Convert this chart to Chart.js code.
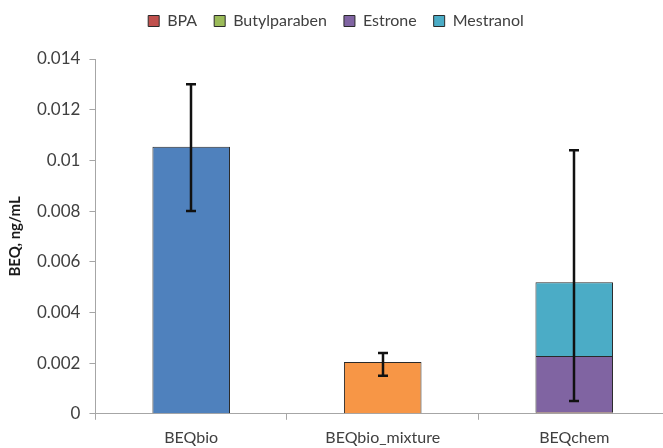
<!DOCTYPE html>
<html>
<head>
<meta charset="utf-8">
<script src="https://cdn.jsdelivr.net/npm/chart.js@4/dist/chart.umd.min.js"></script>
<style>
  html, body { margin: 0; padding: 0; background: #fff; overflow: hidden; }
  #wrap { position: relative; width: 663px; height: 448px; overflow: hidden; }
  #c { position: absolute; left: 0; top: -4px; }
</style>
</head>
<body>
<div id="wrap"><canvas id="c" width="672" height="461"></canvas></div>
<script>
// Categories along the x axis
const categories = ['BEQbio', 'BEQbio_mixture', 'BEQchem'];

// Measured bioassay equivalents (ng/mL)
const beqBio = [0.01054, null, null];
const beqBioMixture = [null, 0.00204, null];

// Chemical contributions stacked in BEQchem (ng/mL)
const bpa = [null, null, 0.00006];
const butylparaben = [null, null, 0.00001];
const estrone = [null, null, 0.00221];
const mestranol = [null, null, 0.00291];

// Error bar limits per category (ng/mL)
const errLow = [0.0080, 0.0015, 0.00051];
const errHigh = [0.0130, 0.0024, 0.0104];

// Y axis ticks
const yTicks = [0, 0.002, 0.004, 0.006, 0.008, 0.01, 0.012, 0.014];

const legendNames = ['BPA', 'Butylparaben', 'Estrone', 'Mestranol'];

const FONT = "Lato, 'Open Sans', sans-serif";
const TEXT = '#404040';

function ds(label, data, color) {
  return {
    label, data,
    backgroundColor: color,
    borderColor: '#2a2a2a',
    borderWidth: 1,
    barPercentage: 0.405,
    categoryPercentage: 1.0,
    stack: 's'
  };
}

// Draws vertical error bars with caps from errLow/errHigh
const errorBars = {
  id: 'errorBars',
  afterDatasetsDraw(chart) {
    const { ctx, scales: { x, y } } = chart;
    ctx.save();
    ctx.strokeStyle = '#111';
    ctx.lineWidth = 2.5;
    categories.forEach((c, i) => {
      const px = Math.round(x.getPixelForValue(i));
      const yl = y.getPixelForValue(errLow[i]);
      const yh = y.getPixelForValue(errHigh[i]);
      ctx.beginPath();
      ctx.moveTo(px, yl); ctx.lineTo(px, yh);
      ctx.moveTo(px - 5, yl); ctx.lineTo(px + 5, yl);
      ctx.moveTo(px - 5, yh); ctx.lineTo(px + 5, yh);
      ctx.stroke();
    });
    ctx.restore();
  }
};

// Leaves extra room between the legend row and the plot
const legendGap = {
  id: 'legendGap',
  beforeInit(chart) {
    const fit = chart.legend.fit;
    chart.legend.fit = function () {
      fit.call(this);
      this.height += 20;
    };
  }
};

new Chart(document.getElementById('c'), {
  type: 'bar',
  data: {
    labels: categories,
    datasets: [
      ds('BEQbio', beqBio, '#4F81BD'),
      ds('BEQbio_mixture', beqBioMixture, '#F79646'),
      ds('BPA', bpa, '#C0504D'),
      ds('Butylparaben', butylparaben, '#9BBB59'),
      ds('Estrone', estrone, '#8064A2'),
      ds('Mestranol', mestranol, '#4BACC6')
    ]
  },
  options: {
    responsive: false,
    animation: false,
    layout: { padding: { left: 2, right: 2, top: 0, bottom: 2 } },
    plugins: {
      tooltip: { enabled: false },
      legend: {
        position: 'top',
        labels: {
          filter: item => legendNames.includes(item.text),
          boxWidth: 11,
          boxHeight: 11,
          padding: 17,
          color: TEXT,
          font: { family: FONT, size: 16 }
        }
      }
    },
    scales: {
      x: {
        stacked: true,
        grid: {
          display: true,
          drawOnChartArea: false,
          drawTicks: true,
          tickLength: 6,
          color: '#a6a6a6',
          offset: true
        },
        border: { color: '#a6a6a6', width: 1 },
        ticks: { color: TEXT, font: { family: FONT, size: 16 }, padding: 8 }
      },
      y: {
        stacked: true,
        min: 0,
        max: 0.014,
        afterBuildTicks(axis) { axis.ticks = yTicks.map(v => ({ value: v })); },
        grid: {
          display: true,
          drawOnChartArea: false,
          drawTicks: true,
          tickLength: 6,
          color: '#a6a6a6'
        },
        border: { color: '#a6a6a6', width: 1 },
        ticks: {
          color: TEXT,
          font: { family: FONT, size: 17 },
          padding: 9,
          callback: v => String(Number(v.toFixed(3)))
        },
        title: {
          display: true,
          text: 'BEQ, ng/mL',
          color: '#1a1a1a',
          font: { family: FONT, size: 15, weight: 'bold' },
          padding: { top: 4, bottom: 4 }
        }
      }
    }
  },
  plugins: [errorBars, legendGap]
});
</script>
</body>
</html>
